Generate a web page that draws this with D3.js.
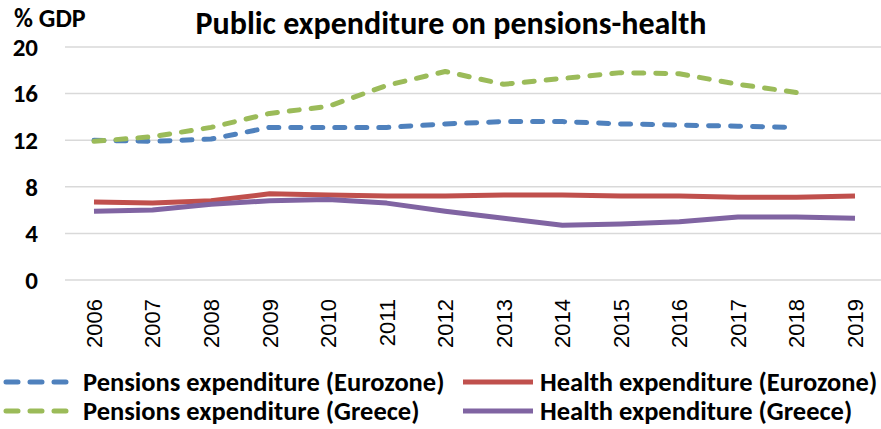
<!DOCTYPE html>
<html>
<head>
<meta charset="utf-8">
<script src="https://cdn.jsdelivr.net/npm/d3@7"></script>
<style>
  body { margin: 0; background: #fff; }
  svg { display: block; font-family: Carlito, "Liberation Sans Narrow", "Open Sans", sans-serif; }
</style>
</head>
<body>
<div id="chartDiv"></div>
<script>
var width = 881,
    height = 429;

// years on the x axis
var years = ["2006", "2007", "2008", "2009", "2010", "2011", "2012",
             "2013", "2014", "2015", "2016", "2017", "2018", "2019"];
var yTicks = [0, 4, 8, 12, 16, 20];

// values (% GDP), null = no data
var pensionsEurozone = [12.0, 11.9, 12.1, 13.1, 13.1, 13.1, 13.4, 13.6, 13.6, 13.4, 13.3, 13.2, 13.1, null];
var healthEurozone   = [6.7, 6.6, 6.8, 7.4, 7.3, 7.2, 7.2, 7.3, 7.3, 7.2, 7.2, 7.1, 7.1, 7.2];
var pensionsGreece   = [11.9, 12.3, 13.1, 14.3, 14.9, 16.7, 17.9, 16.8, 17.3, 17.8, 17.7, 16.8, 16.1, null];
var healthGreece     = [5.9, 6.0, 6.5, 6.8, 6.9, 6.6, 5.9, 5.3, 4.7, 4.8, 5.0, 5.4, 5.4, 5.3];

var series = [
    {name: "Pensions expenditure (Eurozone)", values: pensionsEurozone, color: "#4f81bd", dashed: true},
    {name: "Health expenditure (Eurozone)", values: healthEurozone, color: "#c0504d", dashed: false},
    {name: "Pensions expenditure (Greece)", values: pensionsGreece, color: "#9bbb59", dashed: true},
    {name: "Health expenditure (Greece)", values: healthGreece, color: "#8064a2", dashed: false}
];

var svg = d3.select("#chartDiv")
    .append("svg")
    .attr("width", width)
    .attr("height", height);

var x = d3.scalePoint()
    .domain(years)
    .range([94, 855]);

var y = d3.scaleLinear()
    .domain([0, 20])
    .range([280, 47]);

// gridlines
svg.append("g")
    .selectAll("line")
    .data(yTicks)
    .enter().append("line")
    .attr("x1", 65)
    .attr("x2", 881)
    .attr("y1", function (d) { return y(d); })
    .attr("y2", function (d) { return y(d); })
    .style("stroke", "#d9d9d9")
    .style("stroke-width", 1.5);

// y tick labels
svg.append("g")
    .selectAll("text")
    .data(yTicks)
    .enter().append("text")
    .attr("x", 38)
    .attr("y", function (d) { return y(d); })
    .attr("dy", "0.35em")
    .attr("text-anchor", "end")
    .style("font-size", "25px")
    .style("font-weight", "bold")
    .text(function (d) { return d; });

// x labels, rotated
svg.append("g")
    .selectAll("text")
    .data(years)
    .enter().append("text")
    .attr("transform", function (d) { return "translate(" + x(d) + ",299) rotate(-90)"; })
    .attr("dy", "0.36em")
    .attr("text-anchor", "end")
    .style("font-family", "'Liberation Sans', Arial, sans-serif")
    .style("font-size", "22px")
    .text(function (d) { return d; });

// lines
var line = d3.line()
    .defined(function (d) { return d != null; })
    .x(function (d, i) { return x(years[i]); })
    .y(function (d) { return y(d); });

svg.append("g")
    .selectAll("path")
    .data(series)
    .enter().append("path")
    .attr("d", function (d) { return line(d.values); })
    .style("fill", "none")
    .style("stroke", function (d) { return d.color; })
    .style("stroke-width", 5)
    .style("stroke-linecap", function (d) { return d.dashed ? "round" : "butt"; })
    .style("stroke-linejoin", "round")
    .style("stroke-dasharray", function (d) { return d.dashed ? "10,12" : null; });

// title and axis unit
svg.append("text")
    .attr("x", 451)
    .attr("y", 34)
    .attr("text-anchor", "middle")
    .style("font-size", "32px")
    .style("font-weight", "bold")
    .text("Public expenditure on pensions-health");

svg.append("text")
    .attr("x", 14)
    .attr("y", 27)
    .style("font-size", "26px")
    .style("font-weight", "bold")
    .text("% GDP");

// legend, two columns
var legend = svg.append("g")
    .selectAll("g")
    .data(series)
    .enter().append("g")
    .attr("transform", function (d, i) {
        return "translate(" + (i % 2 ? 463 : 3) + "," + (i < 2 ? 382 : 411) + ")";
    });

legend.append("line")
    .attr("x1", function (d) { return d.dashed ? 3 : 0; })
    .attr("x2", function (d) { return d.dashed ? 68 : 70; })
    .style("stroke", function (d) { return d.color; })
    .style("stroke-width", 5)
    .style("stroke-linecap", function (d) { return d.dashed ? "round" : "butt"; })
    .style("stroke-dasharray", function (d) { return d.dashed ? "12,12" : null; });

legend.append("text")
    .attr("x", function (d, i) { return i % 2 ? 77 : 80; })
    .attr("dy", "0.35em")
    .style("font-size", "26.5px")
    .style("font-weight", "bold")
    .text(function (d) { return d.name; });
</script>
</body>
</html>
